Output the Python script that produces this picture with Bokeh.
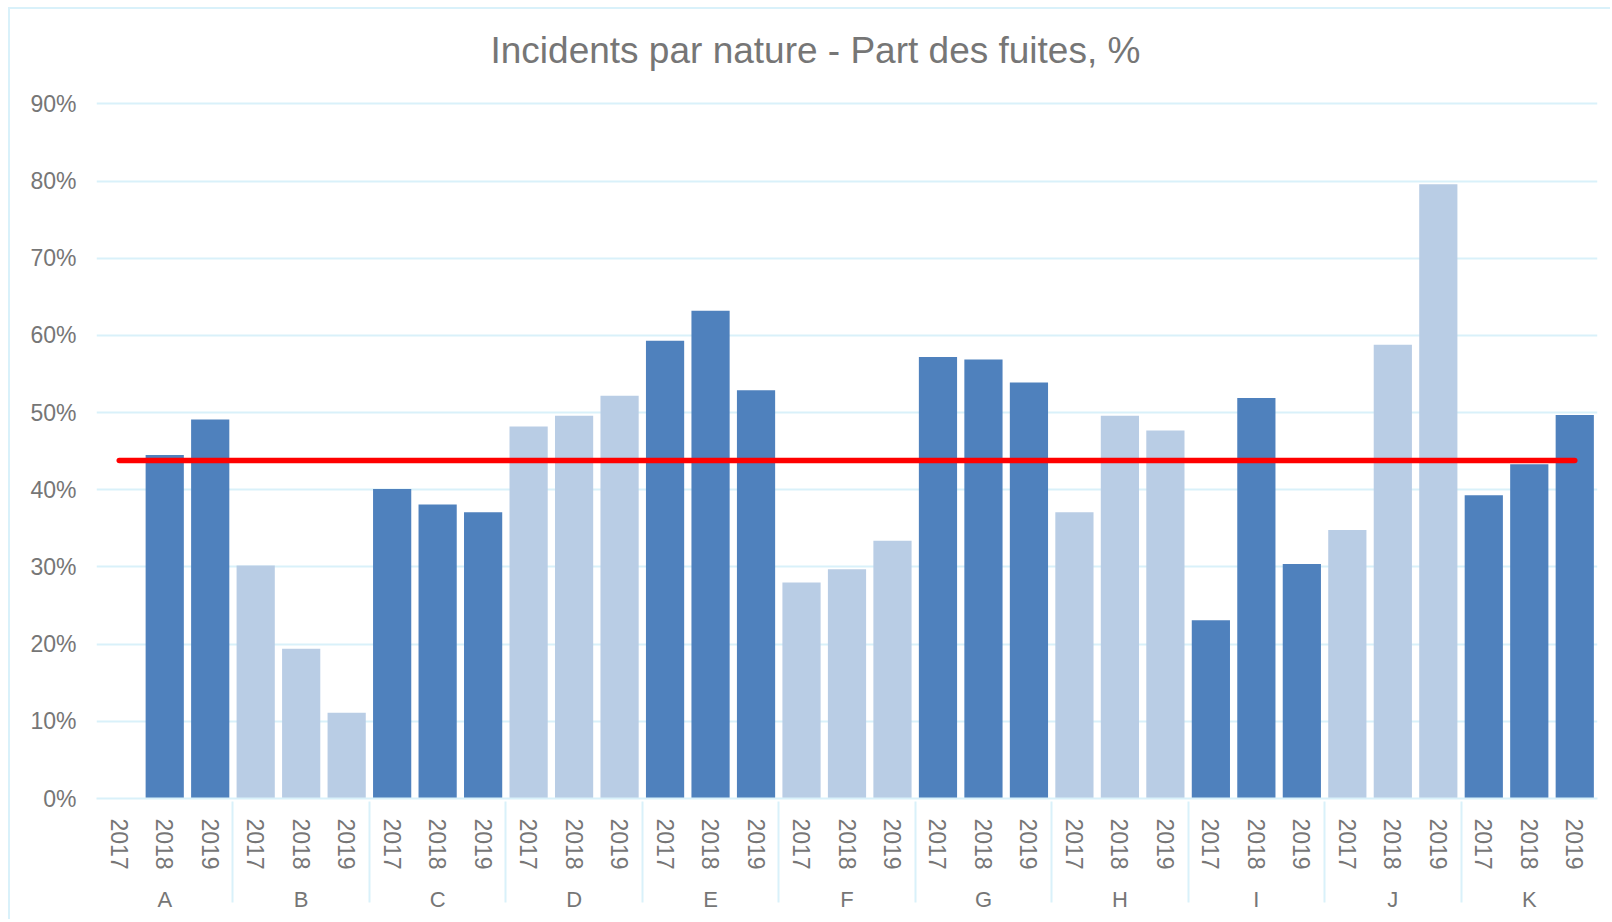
from bokeh.plotting import figure
from bokeh.models import FactorRange, Range1d, FixedTicker, PrintfTickFormatter, ColumnDataSource
from bokeh.embed import file_html
from bokeh.resources import INLINE

groups = ["A", "B", "C", "D", "E", "F", "G", "H", "I", "J", "K"]
years = ["2017", "2018", "2019"]
values = [
    0.0, 44.5, 49.1,    # A
    30.2, 19.4, 11.1,   # B
    40.1, 38.1, 37.1,   # C
    48.2, 49.6, 52.2,   # D
    59.3, 63.2, 52.9,   # E
    28.0, 29.7, 33.4,   # F
    57.2, 56.9, 53.9,   # G
    37.1, 49.6, 47.7,   # H
    23.1, 51.9, 30.4,   # I
    34.8, 58.8, 79.6,   # J
    39.3, 43.3, 49.7,   # K
]
average = 43.8
dark = "#4F81BD"
light = "#B9CDE5"
group_colors = [dark, light, dark, light, dark, light, dark, light, dark, light, dark]

x = [(g, y) for g in groups for y in years]
colors = [group_colors[i // 3] for i in range(len(x))]
src = ColumnDataSource(dict(x=x, v=values, c=colors))

grey = "#767676"
gridc = "#D9F1FA"

p = figure(
    width=1602, height=912,
    x_range=FactorRange(*x, group_padding=0, factor_padding=0, range_padding=0),
    y_range=Range1d(0, 92),
    output_backend="svg", toolbar_location=None,
    min_border_left=86, min_border_right=15, min_border_top=79, min_border_bottom=123,
    title="Incidents par nature - Part des fuites, %",
)
p.styles = {"border-top": "2px solid " + gridc, "border-left": "2px solid " + gridc,
            "margin-left": "8px", "margin-top": "7px"}
p.outline_line_color = None
p.background_fill_color = "white"
p.border_fill_color = "white"

p.title.align = "left"
p.title.offset = 394
p.title.text_font = "Liberation Sans"
p.title.text_font_size = "37px"
p.title.text_font_style = "normal"
p.title.text_color = grey
p.title.standoff = 35

p.vbar(x="x", top="v", width=0.84, color="c", source=src, line_color=None)

p.line(x=[x[0], x[-1]], y=[average, average], line_color="#FF0000", line_width=5.5, line_cap="round")

p.xgrid.grid_line_color = None
p.ygrid.grid_line_color = gridc
p.ygrid.grid_line_width = 2

p.yaxis.ticker = FixedTicker(ticks=[0, 10, 20, 30, 40, 50, 60, 70, 80, 90])
p.yaxis.formatter = PrintfTickFormatter(format="%d%%")
p.yaxis.axis_line_color = None
p.yaxis.major_tick_line_color = None
p.yaxis.minor_tick_line_color = None
p.yaxis.major_label_standoff = 14
p.yaxis.major_label_text_font = "Liberation Sans"
p.yaxis.major_label_text_font_size = "23px"
p.yaxis.major_label_text_color = grey

xa = p.xaxis[0]
xa.axis_line_color = gridc
xa.axis_line_width = 2
xa.major_tick_line_color = None
xa.minor_tick_line_color = None
xa.major_label_orientation = "vertical"
xa.major_label_standoff = 14
xa.major_label_text_font = "Liberation Sans"
xa.major_label_text_font_size = "23px"
xa.major_label_text_color = grey
xa.group_text_font = "Liberation Sans"
xa.group_text_font_size = "22px"
xa.group_text_font_style = "normal"
xa.group_text_color = grey
xa.group_label_orientation = "horizontal"
xa.separator_line_color = gridc
xa.separator_line_width = 2

open("out.html", "w").write(file_html(p, INLINE))
